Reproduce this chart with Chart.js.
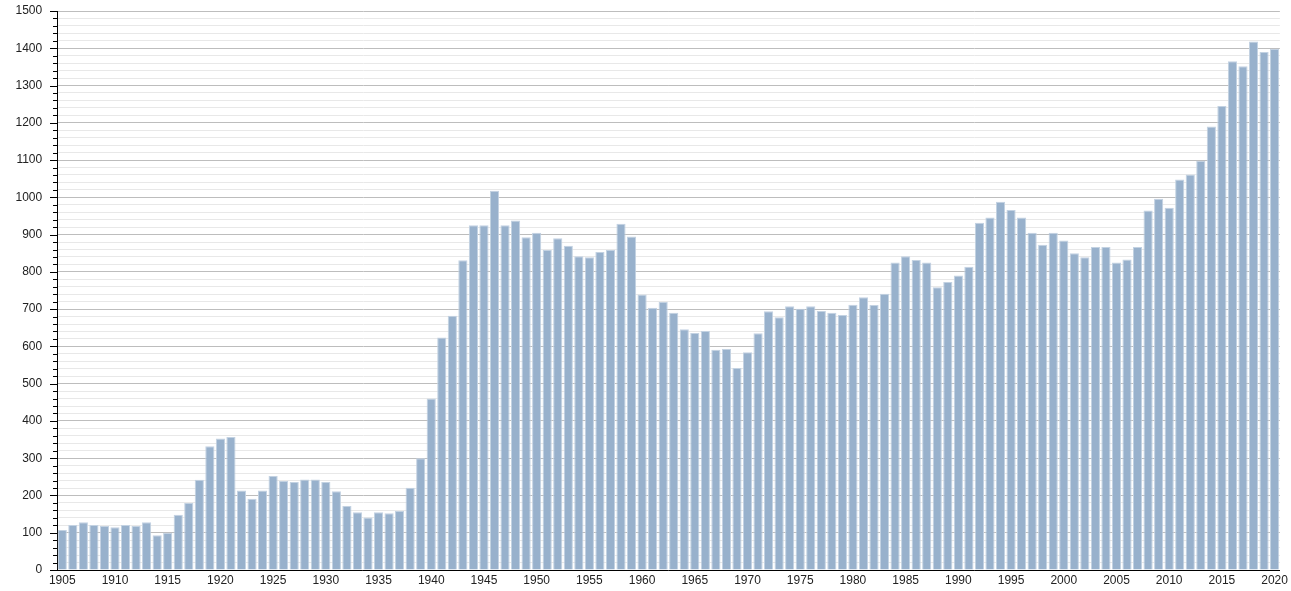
<!DOCTYPE html>
<html>
<head>
<meta charset="utf-8">
<script src="https://cdn.jsdelivr.net/npm/chart.js@4/dist/chart.umd.min.js"></script>
<style>
  html, body { margin: 0; padding: 0; background: #fff; }
  #wrap { width: 1291px; height: 591px; position: relative; }
</style>
</head>
<body>
<div id="wrap"><canvas id="c" width="1291" height="591"></canvas></div>
<script>
const years = [
  1905,1906,1907,1908,1909,1910,1911,1912,1913,1914,
  1915,1916,1917,1918,1919,1920,1921,1922,1923,1924,
  1925,1926,1927,1928,1929,1930,1931,1932,1933,1934,
  1935,1936,1937,1938,1939,1940,1941,1942,1943,1944,
  1945,1946,1947,1948,1949,1950,1951,1952,1953,1954,
  1955,1956,1957,1958,1959,1960,1961,1962,1963,1964,
  1965,1966,1967,1968,1969,1970,1971,1972,1973,1974,
  1975,1976,1977,1978,1979,1980,1981,1982,1983,1984,
  1985,1986,1987,1988,1989,1990,1991,1992,1993,1994,
  1995,1996,1997,1998,1999,2000,2001,2002,2003,2004,
  2005,2006,2007,2008,2009,2010,2011,2012,2013,2014,
  2015,2016,2017,2018,2019,2020
];
const values = [
  107,121,128,121,118,115,121,118,128,93,
  100,148,180,242,332,353,357,213,191,213,
  252,239,236,243,243,236,211,172,155,141,
  155,152,158,221,300,460,624,682,831,925,
  925,1018,925,938,893,905,859,890,870,842,
  839,853,859,929,895,739,704,719,690,646,
  636,641,591,593,542,584,635,694,678,708,
  701,708,695,690,684,712,732,711,741,825,
  842,832,825,759,773,790,814,932,946,988,
  966,946,905,873,905,884,850,839,867,867,
  825,833,867,965,996,972,1048,1061,1098,1190,
  1245,1365,1352,1418,1390,1399
];
const yMin = 0, yMax = 1500, yMajorStep = 100, yMinorStep = 20;
const xLabelEvery = 5;

const FONT = '"Liberation Sans", Arial, Helvetica, sans-serif';

const yTickMarks = {
  id: 'yTickMarks',
  afterDraw(chart) {
    const ys = chart.scales.y;
    const ctx = chart.ctx;
    const x0 = chart.chartArea.left;
    ctx.save();
    ctx.strokeStyle = '#000';
    ctx.lineWidth = 1;
    ys.ticks.forEach(t => {
      const py = Math.round(ys.getPixelForValue(t.value)) + 0.5;
      const len = (t.value % yMajorStep === 0) ? 7 : 4;
      ctx.beginPath();
      ctx.moveTo(x0 - len, py);
      ctx.lineTo(x0, py);
      ctx.stroke();
    });
    ctx.restore();
  }
};

new Chart(document.getElementById('c'), {
  type: 'bar',
  data: {
    labels: years,
    datasets: [{
      data: values,
      backgroundColor: '#98b1cc',
      borderColor: '#c3d2e2',
      borderWidth: 1,
      barPercentage: 0.87,
      categoryPercentage: 1.0
    }]
  },
  options: {
    responsive: false,
    animation: false,
    devicePixelRatio: 1,
    layout: { padding: { left: 0, right: 11, top: 1, bottom: 0 } },
    plugins: { legend: { display: false }, tooltip: { enabled: false } },
    scales: {
      x: {
        afterFit(s) { s.height = 21; },
        grid: { display: false, drawTicks: false },
        border: { display: true, color: '#000', width: 1 },
        ticks: {
          autoSkip: false,
          maxRotation: 0,
          padding: 3,
          color: '#222',
          font: { family: FONT, size: 12 },
          callback(v, i) {
            const yr = years[i];
            return (yr % xLabelEvery === 0) ? String(yr) : '';
          }
        }
      },
      y: {
        min: yMin,
        max: yMax,
        afterFit(s) { s.width = 57; },
        grid: {
          drawTicks: true,
          tickLength: 11,
          tickColor: 'rgba(0,0,0,0)',
          color(ctx) {
            return (ctx.tick && ctx.tick.value % yMajorStep === 0) ? '#bdbdbd' : '#e8e8e8';
          },
          lineWidth: 1
        },
        border: { display: true, color: '#000', width: 1 },
        ticks: {
          stepSize: yMinorStep,
          autoSkip: false,
          padding: 3.8,
          color: '#222',
          font: { family: FONT, size: 12 },
          callback(v) {
            return (v % yMajorStep === 0) ? String(v) : '';
          }
        }
      }
    }
  },
  plugins: [yTickMarks]
});
</script>
</body>
</html>
